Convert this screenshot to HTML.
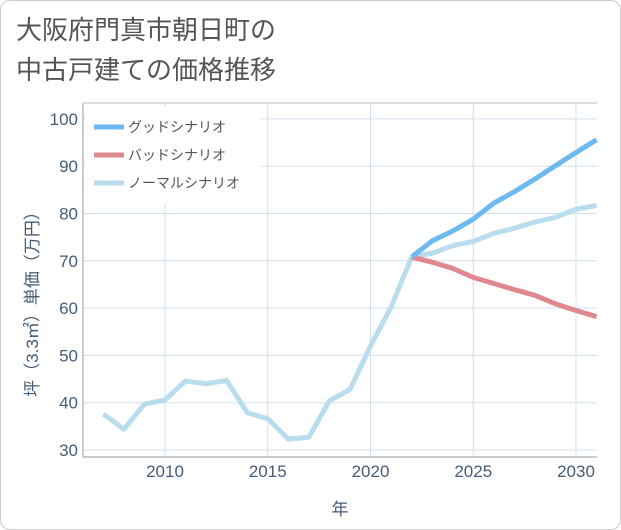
<!DOCTYPE html>
<html><head><meta charset="utf-8"><style>
body{margin:0;background:#fff;font-family:"Liberation Sans","Noto Sans CJK JP",sans-serif;}
.card{position:absolute;left:0;top:0;width:619px;height:528px;border:1px solid #ccc;border-radius:10px;background:#fff;}
.title{position:absolute;left:16px;top:10px;font-size:26px;line-height:40px;color:#555;}
</style></head><body>
<div class="card"></div>
<div class="title">大阪府門真市朝日町の<br>中古戸建ての価格推移</div>
<svg id="chart" width="621" height="530" style="position:absolute;left:0;top:0"></svg>
<script>
const years=[2007,2008,2009,2010,2011,2012,2013,2014,2015,2016,2017,2018,2019,2020,2021,2022];
const history=[37.6,34.4,39.7,40.6,44.6,44.0,44.7,37.9,36.6,32.3,32.7,40.4,42.8,52.0,60.2,70.8];
const futureYears=[2022,2023,2024,2025,2026,2027,2028,2029,2030,2031];
const good=[70.8,74.2,76.3,78.8,82.2,84.6,87.3,90.1,92.9,95.6];
const bad=[70.8,69.7,68.4,66.5,65.2,63.9,62.7,60.9,59.5,58.2];
const normal=[70.8,71.6,73.2,74.1,75.8,76.9,78.2,79.2,80.9,81.7];
const xTicks=[2010,2015,2020,2025,2030];
const yTicks=[30,40,50,60,70,80,90,100];
const NS="http://www.w3.org/2000/svg";
const svg=document.getElementById('chart');
const L=83,R=597,T=103,B=457;
const X=v=>165+(v-2010)*20.55;
const Y=v=>450-(v-30)*4.73;
function mk(t,a,p){const e=document.createElementNS(NS,t);for(const k in a)e.setAttribute(k,a[k]);(p||svg).appendChild(e);return e;}
yTicks.forEach(v=>{
 const g=mk('line',{x1:L,x2:R,y1:Y(v),y2:Y(v),stroke:'#cfe0ec','stroke-width':1});
 
 
 const t=mk('text',{x:L-5,y:Y(v)+6,'text-anchor':'end','font-size':17,fill:'#445d78'});
 t.textContent=v;
 
 
});
xTicks.forEach(v=>{
 const g=mk('line',{x1:X(v),x2:X(v),y1:T,y2:B,stroke:'#cfe0ec','stroke-width':1});
 
 
 const t=mk('text',{x:X(v),y:B+20,'text-anchor':'middle','font-size':17,fill:'#445d78'});
 t.textContent=v;
 
 
});
const ax=mk('polyline',{points:`${L},${T} ${L},${B} ${R},${B}`,fill:'none',stroke:'#999','stroke-width':1});


const plotTop=mk('line',{x1:L,x2:R,y1:T,y2:T,stroke:'#bbb','stroke-width':1});


function line(xs,vs,color,name){
 const p=mk('polyline',{points:xs.map((x,i)=>X(x)+','+Y(vs[i])).join(' '),fill:'none',stroke:color,'stroke-width':5,'stroke-linejoin':'round'});
 
 
}
line(years,history,'#b9dded','history-line');
line(futureYears,normal,'#b9dded','normal-scenario-line');
line(futureYears,bad,'#e08890','bad-scenario-line');
line(futureYears,good,'#6cbaf0','good-scenario-line');
const lg=mk('rect',{x:L+2,y:T+4,width:175,height:96,fill:'#fff'});


[['グッドシナリオ','#6cbaf0'],['バッドシナリオ','#e08890'],['ノーマルシナリオ','#b9dded']].forEach((d,i)=>{
 const y=T+24+i*28;
 const s=mk('line',{x1:94,x2:124,y1:y,y2:y,stroke:d[1],'stroke-width':5});
 
 
 const t=mk('text',{x:128,y:y+5,'font-size':14,fill:'#555'});
 t.textContent=d[0];
 
 
});
const yt=mk('text',{x:0,y:0,'font-size':17,fill:'#445d78','text-anchor':'middle',transform:'translate(38,300) rotate(-90)'});
yt.textContent='坪（3.3㎡）単価（万円）';


const xt=mk('text',{x:340,y:515,'font-size':17,fill:'#445d78','text-anchor':'middle'});
xt.textContent='年';


</script>
</body></html>
